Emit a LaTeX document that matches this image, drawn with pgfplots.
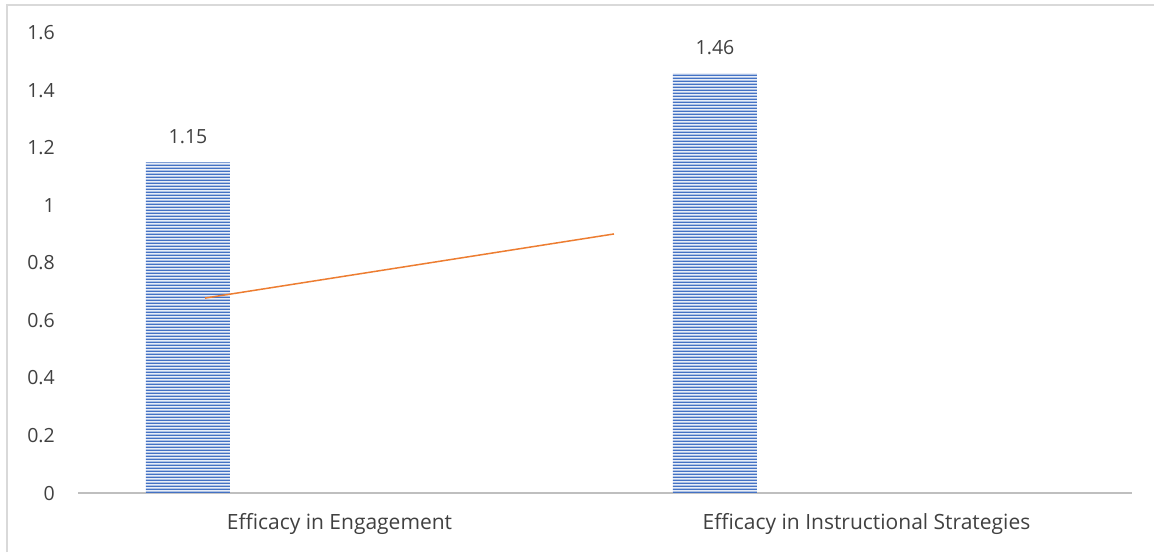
\documentclass[border=0pt]{standalone}
\usepackage{pgfplots}
\pgfplotsset{compat=1.18}
\usepackage{fontspec}
\setmainfont{Open Sans}
\usetikzlibrary{patterns}
\pgfdeclarepatternformonly{hstripes}{\pgfpoint{0pt}{0pt}}{\pgfpoint{120pt}{3pt}}{\pgfpoint{120pt}{3pt}}{%
  \pgfpathrectangle{\pgfpoint{-1pt}{0pt}}{\pgfpoint{122pt}{1.9pt}}\pgfusepath{fill}}
\definecolor{barblue}{HTML}{4472C4}
\definecolor{lineorange}{HTML}{ED7D31}
\definecolor{txt}{HTML}{404040}
\definecolor{axgray}{HTML}{BFBFBF}
\definecolor{bord}{HTML}{D9D9D9}
\begin{document}
\begin{tikzpicture}[x=1pt,y=1pt]
\useasboundingbox (0,0) rectangle (1154,552);
\fill[white] (0,0) rectangle (1154,552);
\draw[bord, line width=1.5pt] (7,0) -- (7,547) -- (1154,547);
\begin{axis}[
  at={(78pt,59pt)}, anchor=south west,
  scale only axis, width=1054pt, height=460pt,
  xmin=0, xmax=2, ymin=0, ymax=1.6,
  axis x line=bottom, axis y line=left,
  y axis line style={draw=none},
  x axis line style={axgray, line width=2.5pt, -},
  major tick length=0pt,
  xtick={0.5,1.5},
  xticklabels={Efficacy in Engagement, Efficacy in Instructional Strategies},
  ytick={0,0.2,0.4,0.6,0.8,1,1.2,1.4,1.6},
  /pgf/number format/assume math mode=true,
  /pgf/number format/fixed,
  /pgf/number format/precision=1,
  xticklabel style={font=\fontsize{21}{25}\selectfont, text=txt, anchor=base, inner sep=0pt, yshift=-36pt, xshift=-2pt},
  yticklabel style={font=\fontsize{19.5}{23}\selectfont, text=txt, anchor=base east, inner sep=0pt, xshift=-23pt, yshift=-7pt},
  clip=false,
]
\addplot[ybar, bar shift=0pt, bar width=84pt, draw=none,
  fill=barblue!12,
  postaction={pattern=hstripes, pattern color=barblue},
  point meta=explicit symbolic,
  nodes near coords,
  nodes near coords style={font=\fontsize{19.5}{23}\selectfont, text=txt, anchor=base, inner sep=0pt, yshift=19pt}]
  coordinates {(0.2087,1.15) [1.15] (1.2087,1.46) [1.46]};
\addplot[lineorange, line width=1.5pt, no marks] coordinates {(0.241,0.678) (1.017,0.901)};
\end{axis}
\end{tikzpicture}
\end{document}
